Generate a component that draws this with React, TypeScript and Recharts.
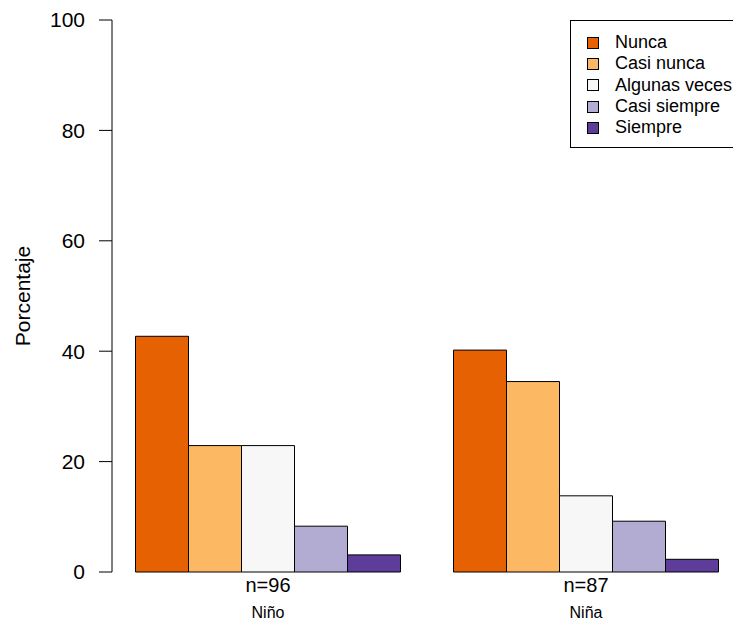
import React from 'react';
import { BarChart, Bar, XAxis, YAxis, Legend, Label } from 'recharts';

const groups = ['Niño', 'Niña'];
const sampleSizes = ['n=96', 'n=87'];
const seriesNames = ['Nunca', 'Casi nunca', 'Algunas veces', 'Casi siempre', 'Siempre'];
const nunca = [42.7, 40.2];
const casiNunca = [22.9, 34.5];
const algunasVeces = [22.9, 13.8];
const casiSiempre = [8.3, 9.2];
const siempre = [3.1, 2.3];
const yTicks = [0, 20, 40, 60, 80, 100];

const colors = ['#E66101', '#FDB863', '#F7F7F7', '#B2ABD2', '#5E3C99'];
const values = [nunca, casiNunca, algunasVeces, casiSiempre, siempre];

const data = groups.map((g, i) => {
  const row: Record<string, string | number> = { group: g, n: sampleSizes[i] };
  seriesNames.forEach((s, k) => {
    row[s] = values[k][i];
  });
  return row;
});

const FONT = '"Liberation Sans", Arial, Helvetica, sans-serif';

const GroupTick = (props: any) => {
  const { x, y, index } = props;
  return (
    <g transform={`translate(${x},${y})`}>
      <text x={0} y={0} dy={12} textAnchor="middle" fill="#000" fontSize={20} fontFamily={FONT}>
        {sampleSizes[index]}
      </text>
      <text x={0} y={0} dy={38} textAnchor="middle" fill="#000" fontSize={16} fontFamily={FONT}>
        {groups[index]}
      </text>
    </g>
  );
};

const LegendBox = (props: any) => {
  // keep the original series order instead of alphabetical
  const payload = [...(props.payload || [])].sort(
    (a: any, b: any) => seriesNames.indexOf(a.value) - seriesNames.indexOf(b.value)
  );
  return (
    <div
      style={{
        border: '1px solid #000',
        background: '#fff',
        width: 190,
        height: 126,
        fontFamily: FONT,
        fontSize: 18,
        color: '#000',
      }}
    >
      <div style={{ paddingTop: 11, paddingLeft: 16 }}>
        {payload.map((entry: any) => (
          <div key={entry.value} style={{ display: 'flex', alignItems: 'center', height: 21.3 }}>
            <span
              style={{
                display: 'inline-block',
                width: 10,
                height: 10,
                background: entry.color,
                border: '1px solid #000',
                marginRight: 16,
              }}
            />
            <span style={{ whiteSpace: 'nowrap', lineHeight: '21px' }}>{entry.value}</span>
          </div>
        ))}
      </div>
    </div>
  );
};

export default function App() {
  return (
    <div style={{ position: 'absolute', left: 0, top: 0, width: 733, height: 624, overflow: 'hidden', background: '#fff' }}>
      <BarChart
        width={733}
        height={624}
        data={data}
        margin={{ top: 20, right: 0, bottom: 0, left: 0 }}
        barGap={0}
        barCategoryGap={26.5}
      >
        <XAxis
          dataKey="group"
          axisLine={false}
          tickLine={false}
          height={52}
          padding={{ left: -3, right: -12 }}
          tick={<GroupTick />}
          interval={0}
        />
        <YAxis
          domain={[0, 100]}
          ticks={yTicks}
          width={112}
          axisLine={{ stroke: '#000', strokeWidth: 1 }}
          tickLine={{ stroke: '#000', strokeWidth: 1 }}
          tickSize={13}
          tickMargin={14}
          tick={{ fill: '#000', fontSize: 21, fontFamily: FONT }}
        >
          <Label
            content={({ viewBox }: any) => (
              <text
                x={viewBox.x + 22}
                y={viewBox.y + viewBox.height / 2}
                transform={`rotate(-90, ${viewBox.x + 22}, ${viewBox.y + viewBox.height / 2})`}
                textAnchor="middle"
                dominantBaseline="central"
                fill="#000"
                fontSize={21}
                fontFamily={FONT}
              >
                Porcentaje
              </text>
            )}
          />
        </YAxis>
        <Legend
          layout="horizontal"
          verticalAlign="middle"
          align="center"
          content={<LegendBox />}
          wrapperStyle={{ left: 570, top: 20, width: 200, height: 130 }}
        />
        {seriesNames.map((s, k) => (
          <Bar
            key={s}
            dataKey={s}
            name={s}
            fill={colors[k]}
            stroke="#000"
            strokeWidth={1}
            isAnimationActive={false}
          />
        ))}
      </BarChart>
    </div>
  );
}
